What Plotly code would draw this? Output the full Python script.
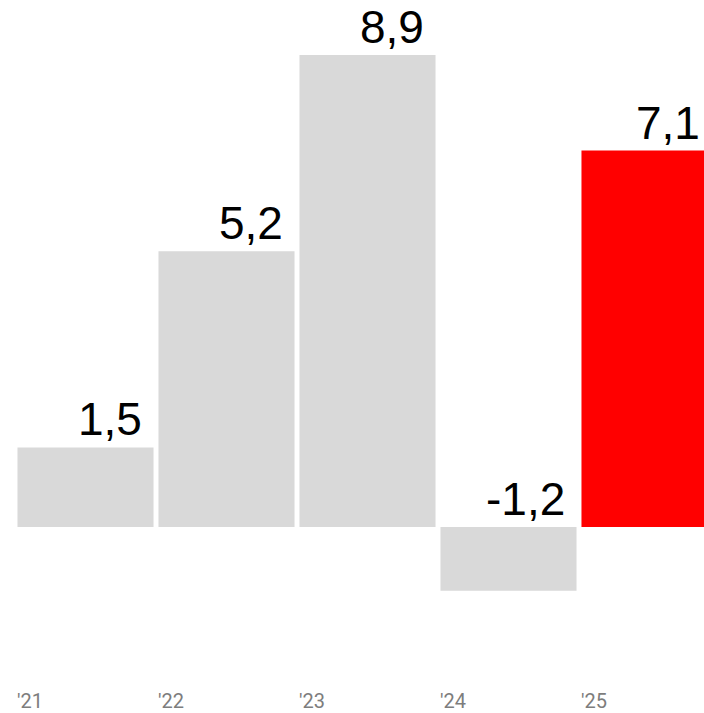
import plotly.graph_objects as go

# Annual change, one bar per year
years = ["'21", "'22", "'23", "'24", "'25"]
values = [1.5, 5.2, 8.9, -1.2, 7.1]
labels = ["1,5", "5,2", "8,9", "-1,2", "7,1"]
colors = ["#d9d9d9", "#d9d9d9", "#d9d9d9", "#d9d9d9", "#ff0000"]

x_idx = list(range(len(years)))

fig = go.Figure(
    go.Bar(
        x=x_idx,
        y=values,
        marker=dict(color=colors, line=dict(width=0)),
        hoverinfo="skip",
    )
)

annotations = []
for i, (v, lab) in enumerate(zip(values, labels)):
    # value label, right-aligned over the bar (above zero for negatives);
    # the last one is pulled in so it stays inside the page edge
    annotations.append(dict(
        x=i, y=max(v, 0), xref="x", yref="y",
        text=lab, showarrow=False,
        xanchor="right", yanchor="bottom",
        xshift=58 if i < len(values) - 1 else 52, yshift=0,
        font=dict(family="Liberation Sans, Arial, sans-serif", size=46, color="#000000"),
    ))
    # year label at the bottom, aligned with the bar's left edge
    annotations.append(dict(
        x=i, y=0, xref="x", yref="paper",
        text=years[i], showarrow=False,
        xanchor="left", yanchor="bottom",
        xshift=-71, yshift=-2,
        font=dict(family="Roboto, sans-serif", size=20, color="#7d7d7d"),
    ))

fig.update_layout(
    width=725,
    height=713,
    margin=dict(l=15, r=5, t=0, b=0),
    paper_bgcolor="#ffffff",
    plot_bgcolor="#ffffff",
    bargap=0.035,
    showlegend=False,
    xaxis=dict(range=[-0.5, 4.5], visible=False, fixedrange=True),
    yaxis=dict(range=[-3.507, 9.938], visible=False, fixedrange=True),
    annotations=annotations,
)

fig.write_html("out.html", config={"displayModeBar": False})
